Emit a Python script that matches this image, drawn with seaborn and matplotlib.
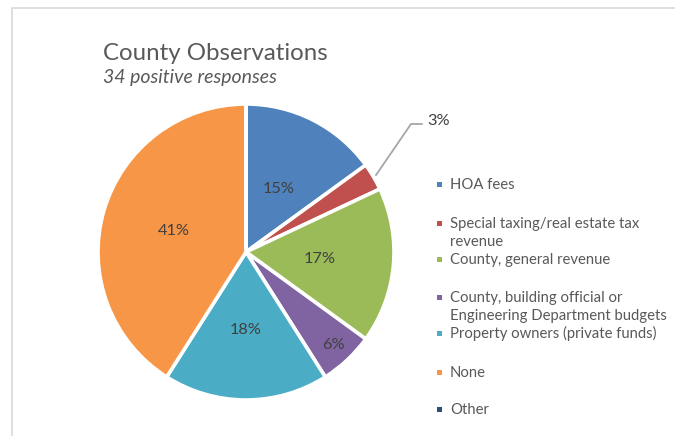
import numpy as np
import matplotlib
matplotlib.use("Agg")
import matplotlib.pyplot as plt
from matplotlib.patches import Rectangle
import seaborn as sns

# Data (percent of 34 positive responses)
categories = [
    "HOA fees",
    "Special taxing/real estate tax\nrevenue",
    "County, general revenue",
    "County, building official or\nEngineering Department budgets",
    "Property owners (private funds)",
    "None",
    "Other",
]
percents = [15, 3, 17, 6, 18, 41, 0]

title = "County Observations"
subtitle = "34 positive responses"

# Excel 2010 style palette
colors = ["#4F81BD", "#C0504D", "#9BBB59", "#8064A2", "#4BACC6", "#F79646", "#2C4D75"]

sns.set_theme(style="white")
plt.rcParams["font.family"] = ["Lato", "DejaVu Sans"]
text_color = "#595959"

W, H = 675, 436
fig = plt.figure(figsize=(W / 100, H / 100), dpi=100)

# light gray chart-area frame (left and top edges visible)
fig.add_artist(Rectangle((12 / W, -0.1), 1.2, (H - 8) / H + 0.1, transform=fig.transFigure,
                         fill=False, edgecolor="#D9D9D9", linewidth=1.2))

cx, cy, R = 246, 252, 148
ax = fig.add_axes([(cx - R) / W, (H - cy - R) / H, 2 * R / W, 2 * R / H])

wedges, _ = ax.pie(percents, colors=colors, startangle=90, counterclock=False,
                   wedgeprops=dict(edgecolor="white", linewidth=2.6))
ax.set_xlim(-1, 1)
ax.set_ylim(-1, 1)
ax.set_aspect("equal")

# data labels
label_radius = [0.48, None, 0.50, 0.86, 0.53, 0.51, None]
for w, p, r in zip(wedges, percents, label_radius):
    if p == 0:
        continue
    mid = np.deg2rad((w.theta1 + w.theta2) / 2)
    if r is None:
        # small slice: leader line to outside label
        x0, y0 = 1.02 * np.cos(mid), 1.02 * np.sin(mid)
        x1, y1 = 1.115, 0.865
        x2 = 1.19
        ax.plot([x0, x1, x2], [y0, y1, y1], color="#A6A6A6", lw=1.3, clip_on=False)
        ax.text(x2 + 0.035, y1 + 0.02, f"{p}%", ha="left", va="center",
                fontsize=11.8, color="#404040", clip_on=False)
    else:
        ax.text(r * np.cos(mid), r * np.sin(mid), f"{p}%", ha="center", va="center",
                fontsize=11.8, color="#404040")

# titles
fig.text(103 / W, 1 - 60 / H, title, fontsize=17.3, color=text_color, ha="left", va="baseline")
fig.text(103 / W, 1 - 83 / H, subtitle, fontsize=14, style="italic", color=text_color,
         ha="left", va="baseline")

# legend, one slot per category (first-line baselines in pixels)
legend_y = [189, 228, 264, 302, 338, 377, 414]
line_step = 18
for c, lab, y in zip(colors, categories, legend_y):
    fig.add_artist(Rectangle((437 / W, 1 - (y - 2) / H), 5 / W, 5 / H,
                             transform=fig.transFigure, facecolor=c, edgecolor="none"))
    for k, line in enumerate(lab.split("\n")):
        fig.text(450 / W, 1 - (y + k * line_step) / H, line, fontsize=10.7, color=text_color,
                 ha="left", va="baseline")

fig.savefig("out.png", dpi=100)
